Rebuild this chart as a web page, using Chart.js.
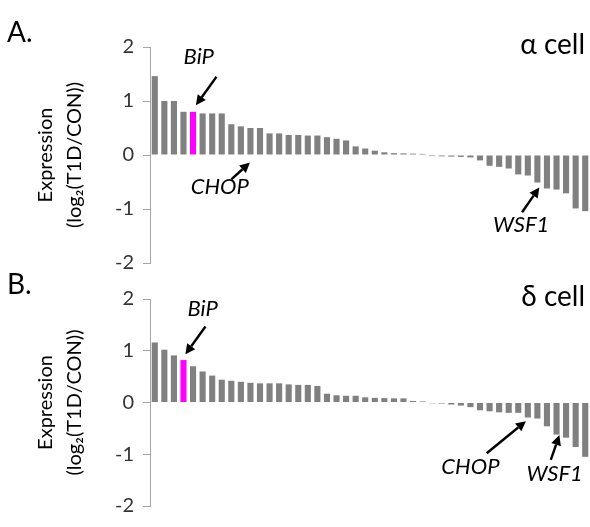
<!DOCTYPE html>
<html><head><meta charset="utf-8">
<script src="https://cdn.jsdelivr.net/npm/chart.js@4"></script>
<style>
html,body{margin:0;padding:0;background:#fff;}
#wrap{position:relative;width:590px;height:527px;overflow:hidden;}
#wrap canvas{position:absolute;left:0;top:0;}
</style></head><body>
<div id="wrap">
<canvas id="cA" width="590" height="527"></canvas>
<canvas id="cB" width="590" height="527"></canvas>
</div>
<script>
// ---- data ----
const alphaValues = [1.46,1.00,1.00,0.80,0.80,0.77,0.77,0.77,0.57,0.53,0.50,0.50,0.40,0.40,0.37,0.37,0.36,0.36,0.33,0.30,0.27,0.16,0.12,0.08,0.05,0.035,0.03,0.025,0.02,-0.02,-0.025,-0.03,-0.035,-0.045,-0.10,-0.20,-0.22,-0.25,-0.36,-0.38,-0.51,-0.62,-0.64,-0.71,-0.99,-1.04];
const deltaValues = [1.16,1.02,0.91,0.82,0.70,0.60,0.52,0.44,0.42,0.40,0.38,0.37,0.37,0.37,0.35,0.34,0.34,0.32,0.17,0.14,0.13,0.13,0.10,0.09,0.085,0.08,0.08,0.03,0.02,-0.015,-0.02,-0.04,-0.06,-0.09,-0.15,-0.17,-0.19,-0.20,-0.20,-0.29,-0.31,-0.46,-0.62,-0.68,-0.86,-1.05];
const genes = alphaValues.map((_, i) => 'gene ' + (i + 1));
const yTicks = [2, 1, 0, -1, -2];
const alphaBiP = 4;
const deltaBiP = 3;
const panelLetters = ['A.', 'B.'];
const panelTitles = ['\u03b1 cell', '\u03b4 cell'];
const yTitle = ['Expression', '(log\u2082(T1D/CON))'];
// annotations in data coordinates (category index, value)
const alphaNotes = [
  {text:'BiP',  tx:4.6,  ty:1.81,  x1:6.45, y1:1.45, x2:4.3,  y2:0.92},
  {text:'CHOP', tx:6.8,  ty:-0.60, x1:8.0,  y1:-0.45, x2:9.95, y2:-0.14},
  {text:'WSF1', tx:38.3, ty:-1.30, x1:38.4, y1:-1.06, x2:40.2, y2:-0.60}
];
const deltaNotes = [
  {text:'BiP',  tx:5.0,  ty:1.80,  x1:5.3,  y1:1.47, x2:3.2,  y2:0.93},
  {text:'CHOP', tx:33.0, ty:-1.24, x1:34.7, y1:-0.98, x2:38.8, y2:-0.36},
  {text:'WSF1', tx:41.8, ty:-1.38, x1:41.4, y1:-1.11, x2:42.3, y2:-0.63}
];

const FONT = 'Lato, "Open Sans", sans-serif';
const GRAY = '#808080';
const MAGENTA = '#ff00ff';
const AXIS = '#a6a6a6';

function drawArrow(ctx, x1, y1, x2, y2) {
  const ang = Math.atan2(y2 - y1, x2 - x1);
  const hl = 10, hw = 5;
  const bx = x2 - hl * Math.cos(ang), by = y2 - hl * Math.sin(ang);
  ctx.strokeStyle = '#000';
  ctx.fillStyle = '#000';
  ctx.lineWidth = 2.4;
  ctx.beginPath();
  ctx.moveTo(x1, y1);
  ctx.lineTo(bx, by);
  ctx.stroke();
  ctx.beginPath();
  ctx.moveTo(x2, y2);
  ctx.lineTo(bx + hw * Math.sin(ang), by - hw * Math.cos(ang));
  ctx.lineTo(bx - hw * Math.sin(ang), by + hw * Math.cos(ang));
  ctx.closePath();
  ctx.fill();
}

const notesPlugin = {
  id: 'notes',
  afterDraw(chart) {
    const o = chart.options.plugins.notes;
    const ctx = chart.ctx;
    const xs = chart.scales.x, ys = chart.scales.y;
    ctx.save();
    o.notes.forEach(n => {
      ctx.font = 'italic 22px ' + FONT;
      ctx.fillStyle = '#000';
      ctx.textAlign = 'center';
      ctx.textBaseline = 'middle';
      ctx.fillText(n.text, xs.getPixelForValue(n.tx), ys.getPixelForValue(n.ty));
      drawArrow(ctx, xs.getPixelForValue(n.x1), ys.getPixelForValue(n.y1),
                     xs.getPixelForValue(n.x2), ys.getPixelForValue(n.y2));
    });
    ctx.font = '28px ' + FONT;
    ctx.fillStyle = '#000';
    ctx.textBaseline = 'middle';
    ctx.textAlign = 'left';
    ctx.fillText(o.letter, 7, chart.chartArea.top - 14);
    ctx.textAlign = 'right';
    ctx.fillText(o.title, 585, chart.chartArea.top - 2);
    ctx.restore();
  }
};

function makeChart(id, values, hi, notes, letter, title, padTop, padBottom) {
  return new Chart(document.getElementById(id), {
    type: 'bar',
    data: {
      labels: genes,
      datasets: [{
        data: values,
        backgroundColor: values.map((_, i) => i === hi ? MAGENTA : GRAY),
        barPercentage: 0.64,
        categoryPercentage: 1.0
      }]
    },
    options: {
      responsive: false,
      animation: false,
      layout: {padding: {top: padTop, bottom: padBottom, left: 0, right: 0}},
      plugins: {
        legend: {display: false},
        tooltip: {enabled: false},
        notes: {notes: notes, letter: letter, title: title}
      },
      scales: {
        x: {display: false},
        y: {
          min: -2, max: 2,
          afterFit(scale) { scale.width = 150; },
          afterBuildTicks(scale) { scale.ticks = yTicks.map(v => ({value: v})); },
          ticks: {font: {family: FONT, size: 20}, color: '#333', padding: 9},
          grid: {display: true, drawOnChartArea: false, drawTicks: true, tickLength: 7, color: AXIS, lineWidth: 1},
          border: {display: true, color: AXIS, width: 1},
          title: {display: true, text: yTitle, color: '#000',
                  font: {family: FONT, size: 20, lineHeight: 1.45},
                  padding: {top: 31, bottom: 0}}
        }
      }
    },
    plugins: [notesPlugin]
  });
}

makeChart('cA', alphaValues, alphaBiP, alphaNotes, panelLetters[0], panelTitles[0], 47, 264);
makeChart('cB', deltaValues, deltaBiP, deltaNotes, panelLetters[1], panelTitles[1], 299, 12);
</script>
</body></html>
